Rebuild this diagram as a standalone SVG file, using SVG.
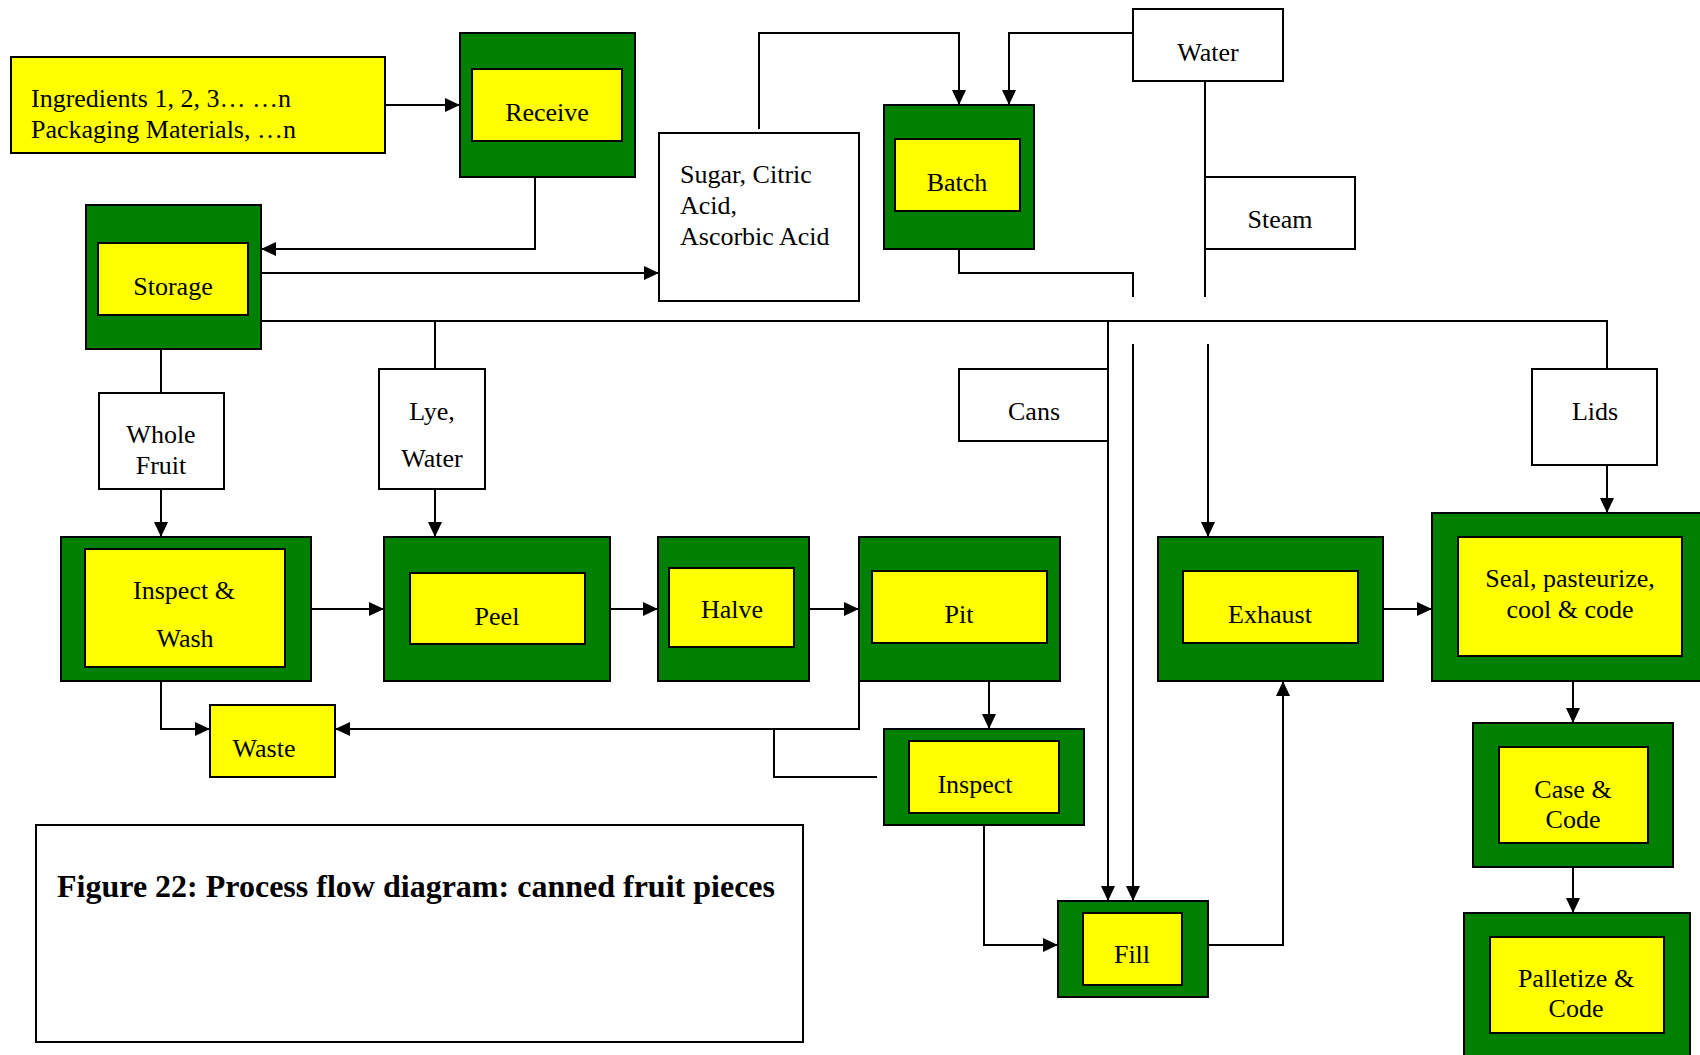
<svg xmlns="http://www.w3.org/2000/svg" width="1700" height="1055" viewBox="0 0 1700 1055">
  <style>
    .outer { fill: #008000; stroke: #000; stroke-width: 2; }
    .inner { fill: #ffff00; stroke: #000; stroke-width: 2; }
    .plain { fill: #ffffff; stroke: #000; stroke-width: 2; }
    .txt { font-family: "Liberation Serif", "Times New Roman", serif; font-size: 26px; fill: #000; }
    .mid { text-anchor: middle; }
    .title { font-family: "Liberation Serif", "Times New Roman", serif; font-size: 32px; font-weight: bold; fill: #000; }
    .wire { fill: none; stroke: #000; stroke-width: 2; }
    .arr { marker-end: url(#head); }
  </style>
  <defs>
    <marker id="head" markerUnits="userSpaceOnUse" markerWidth="15" markerHeight="14" refX="15" refY="7" orient="auto">
      <path d="M0,0 L15,7 L0,14 Z" fill="#000"/>
    </marker>
  </defs>
  <rect width="1700" height="1055" fill="#ffffff"/>

  <!-- connectors -->
  <g id="connectors">
    <path class="wire arr" d="M385,105 H460"/>
    <path class="wire arr" d="M535,177 V249 H261"/>
    <path class="wire arr" d="M261,273 H659"/>
    <path class="wire arr" d="M759,129 V33 H959 V105"/>
    <path class="wire arr" d="M1133,33 H1009 V105"/>
    <path class="wire" d="M959,249 V273 H1133 V297"/>
    <path class="wire" d="M1205,81 V297"/>
    <path class="wire" d="M261,321 H1607 V369"/>
    <path class="wire" d="M435,321 V369"/>
    <path class="wire arr" d="M1108,321 V901"/>
    <path class="wire arr" d="M1133,344 V901"/>
    <path class="wire arr" d="M1208,344 V537"/>
    <path class="wire" d="M161,345 V393"/>
    <path class="wire arr" d="M161,489 V537"/>
    <path class="wire arr" d="M435,489 V537"/>
    <path class="wire arr" d="M311,609 H384"/>
    <path class="wire arr" d="M610,609 H658"/>
    <path class="wire arr" d="M809,609 H859"/>
    <path class="wire arr" d="M989,681 V729"/>
    <path class="wire arr" d="M161,681 V729 H210"/>
    <path class="wire arr" d="M859,681 V729 H335"/>
    <path class="wire" d="M877,777 H774 V729"/>
    <path class="wire arr" d="M984,825 V945 H1058"/>
    <path class="wire arr" d="M1208,945 H1283 V681"/>
    <path class="wire arr" d="M1383,609 H1432"/>
    <path class="wire arr" d="M1607,465 V513"/>
    <path class="wire arr" d="M1573,681 V723"/>
    <path class="wire arr" d="M1573,867 V913"/>
  </g>

  <!-- supply boxes -->
  <g id="ingredients">
    <rect class="inner" x="11" y="57" width="374" height="96"/>
    <text class="txt" x="31" y="107">Ingredients 1, 2, 3… …n</text>
    <text class="txt" x="31" y="138">Packaging Materials, …n</text>
  </g>
  <g id="sugar">
    <rect class="plain" x="659" y="133" width="200" height="168"/>
    <text class="txt" x="680" y="183">Sugar, Citric</text>
    <text class="txt" x="680" y="214">Acid,</text>
    <text class="txt" x="680" y="245">Ascorbic Acid</text>
  </g>
  <g id="water">
    <rect class="plain" x="1133" y="9" width="150" height="72"/>
    <text class="txt mid" x="1208" y="61">Water</text>
  </g>
  <g id="steam">
    <rect class="plain" x="1205" y="177" width="150" height="72"/>
    <text class="txt mid" x="1280" y="228">Steam</text>
  </g>
  <g id="whole-fruit">
    <rect class="plain" x="99" y="393" width="125" height="96"/>
    <text class="txt mid" x="161" y="443">Whole</text>
    <text class="txt mid" x="161" y="474">Fruit</text>
  </g>
  <g id="lye-water">
    <rect class="plain" x="379" y="369" width="106" height="120"/>
    <text class="txt mid" x="432" y="420">Lye,</text>
    <text class="txt mid" x="432" y="467">Water</text>
  </g>
  <g id="cans">
    <rect class="plain" x="959" y="369" width="149" height="72"/>
    <text class="txt mid" x="1034" y="420">Cans</text>
  </g>
  <g id="lids">
    <rect class="plain" x="1532" y="369" width="125" height="96"/>
    <text class="txt mid" x="1595" y="420">Lids</text>
  </g>
  <g id="waste">
    <rect class="inner" x="210" y="705" width="125" height="72"/>
    <text class="txt mid" x="264" y="757">Waste</text>
  </g>

  <!-- process steps -->
  <g id="receive">
    <rect class="outer" x="460" y="33" width="175" height="144"/>
    <rect class="inner" x="472" y="69" width="150" height="72"/>
    <text class="txt mid" x="547" y="121">Receive</text>
  </g>
  <g id="storage">
    <rect class="outer" x="86" y="205" width="175" height="144"/>
    <rect class="inner" x="98" y="243" width="150" height="72"/>
    <text class="txt mid" x="173" y="295">Storage</text>
  </g>
  <g id="batch">
    <rect class="outer" x="884" y="105" width="150" height="144"/>
    <rect class="inner" x="895" y="139" width="125" height="72"/>
    <text class="txt mid" x="957" y="191">Batch</text>
  </g>
  <g id="inspect-wash">
    <rect class="outer" x="61" y="537" width="250" height="144"/>
    <rect class="inner" x="85" y="549" width="200" height="118"/>
    <text class="txt mid" x="184" y="599">Inspect &amp;</text>
    <text class="txt mid" x="185" y="647">Wash</text>
  </g>
  <g id="peel">
    <rect class="outer" x="384" y="537" width="226" height="144"/>
    <rect class="inner" x="410" y="573" width="175" height="71"/>
    <text class="txt mid" x="497" y="625">Peel</text>
  </g>
  <g id="halve">
    <rect class="outer" x="658" y="537" width="151" height="144"/>
    <rect class="inner" x="669" y="568" width="125" height="79"/>
    <text class="txt mid" x="732" y="618">Halve</text>
  </g>
  <g id="pit">
    <rect class="outer" x="859" y="537" width="201" height="144"/>
    <rect class="inner" x="872" y="571" width="175" height="72"/>
    <text class="txt mid" x="959" y="623">Pit</text>
  </g>
  <g id="inspect">
    <rect class="outer" x="884" y="729" width="200" height="96"/>
    <rect class="inner" x="909" y="741" width="150" height="72"/>
    <text class="txt mid" x="975" y="793">Inspect</text>
  </g>
  <g id="fill">
    <rect class="outer" x="1058" y="901" width="150" height="96"/>
    <rect class="inner" x="1083" y="913" width="99" height="72"/>
    <text class="txt mid" x="1132" y="963">Fill</text>
  </g>
  <g id="exhaust">
    <rect class="outer" x="1158" y="537" width="225" height="144"/>
    <rect class="inner" x="1183" y="571" width="175" height="72"/>
    <text class="txt mid" x="1270" y="623">Exhaust</text>
  </g>
  <g id="seal">
    <rect class="outer" x="1432" y="513" width="270" height="168"/>
    <rect class="inner" x="1458" y="537" width="224" height="119"/>
    <text class="txt mid" x="1570" y="587">Seal, pasteurize,</text>
    <text class="txt mid" x="1570" y="618">cool &amp; code</text>
  </g>
  <g id="case-code">
    <rect class="outer" x="1473" y="723" width="200" height="144"/>
    <rect class="inner" x="1499" y="747" width="149" height="96"/>
    <text class="txt mid" x="1573" y="798">Case &amp;</text>
    <text class="txt mid" x="1573" y="828">Code</text>
  </g>
  <g id="palletize-code">
    <rect class="outer" x="1464" y="913" width="226" height="150"/>
    <rect class="inner" x="1490" y="937" width="174" height="96"/>
    <text class="txt mid" x="1576" y="987">Palletize &amp;</text>
    <text class="txt mid" x="1576" y="1017">Code</text>
  </g>

  <!-- caption -->
  <g id="caption">
    <rect class="plain" x="36" y="825" width="767" height="217"/>
    <text class="title" x="57" y="897" textLength="718" lengthAdjust="spacingAndGlyphs">Figure 22: Process flow diagram: canned fruit pieces</text>
  </g>
</svg>
